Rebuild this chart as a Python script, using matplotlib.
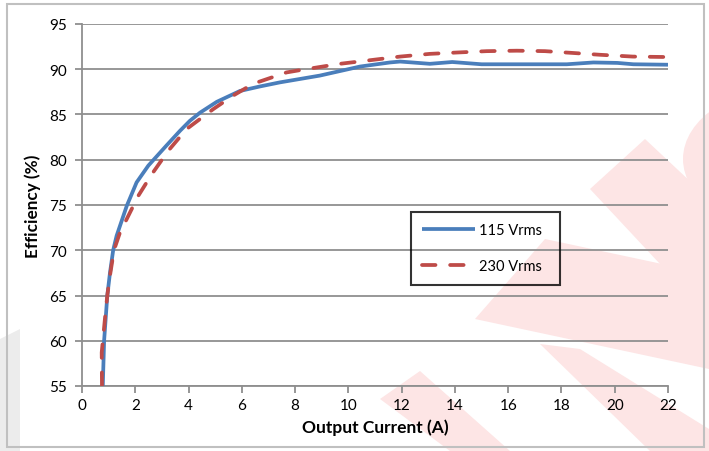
import matplotlib.pyplot as plt
from matplotlib.patches import Polygon, Circle, Rectangle

# 115 Vrms curve
x_115 = [0.78, 0.83, 0.95, 1.05, 1.17, 1.3, 1.68, 2.05, 2.49, 3.18, 3.68,
         4.05, 4.43, 5.06, 5.93, 6.68, 7.43, 8.93, 10.44, 11.56, 11.94, 12.4,
         13.06, 13.9, 15.0, 16.9, 18.2, 19.2, 20.1, 20.7, 22.0]
y_115 = [55.0, 60.0, 65.0, 67.5, 70.0, 71.6, 74.9, 77.5, 79.35, 81.6, 83.2,
         84.3, 85.2, 86.4, 87.6, 88.1, 88.55, 89.3, 90.3, 90.75, 90.85, 90.75,
         90.6, 90.8, 90.55, 90.55, 90.55, 90.75, 90.7, 90.55, 90.5]

# 230 Vrms curve
x_230 = [0.75, 0.74, 0.86, 0.95, 1.05, 1.2, 1.43, 1.68, 2.11, 2.62, 3.24,
         3.93, 4.93, 5.68, 6.43, 7.68, 8.18, 9.68, 10.68, 11.94, 13.06,
         14.08, 15.2, 16.33, 17.38, 18.43, 19.44, 20.68, 22.0]
y_230 = [55.0, 58.7, 62.4, 65.0, 67.2, 70.0, 72.0, 73.45, 76.0, 78.4, 81.0,
         83.4, 85.6, 87.1, 88.4, 89.65, 89.9, 90.6, 90.95, 91.4, 91.7,
         91.85, 92.0, 92.05, 92.0, 91.8, 91.6, 91.4, 91.35]

x_ticks = list(range(0, 23, 2))
y_ticks = list(range(55, 96, 5))

W, H = 709, 452
fig = plt.figure(figsize=(W / 100, H / 100), dpi=100)
plt.rcParams["font.family"] = ["Lato", "DejaVu Sans"]


def px(pts):
    return [(a / W, 1 - b / H) for a, b in pts]


# faint background watermark
pink = "#fde5e5"
for pts in [[(590, 190), (645, 140), (709, 200), (709, 300), (660, 265)],
            [(475, 320), (545, 240), (709, 275), (709, 370)],
            [(540, 345), (580, 350), (709, 430), (709, 452), (650, 452)],
            [(380, 400), (420, 372), (510, 452), (450, 452)]]:
    fig.patches.append(Polygon(px(pts), closed=True, transform=fig.transFigure,
                               facecolor=pink, edgecolor="none", zorder=-2))
fig.patches.append(Circle((800 / W, 1 - 160 / H), 117 / W, transform=fig.transFigure,
                          facecolor=pink, edgecolor="none", zorder=-2))
fig.patches.append(Polygon(px([(0, 340), (20, 330), (20, 452), (0, 452)]), closed=True,
                           transform=fig.transFigure, facecolor="#ececec",
                           edgecolor="none", zorder=-2))
fig.patches.append(Rectangle((7 / W, 1 - 448 / H), 697 / W, 443 / H,
                             transform=fig.transFigure, facecolor="none",
                             edgecolor="#c0c0c0", lw=1.5, zorder=-1))

ax = fig.add_axes([82 / W, 1 - 387 / H, 586 / W, 362 / H])
ax.set_facecolor("none")

ax.plot(x_115, y_115, color="#4a7ebb", lw=2.7, solid_capstyle="butt",
        solid_joinstyle="round", label="115 Vrms", zorder=3)
l2, = ax.plot(x_230, y_230, color="#be4b48", lw=2.7, dash_capstyle="round",
              label="230 Vrms", zorder=4)
l2.set_dashes((3.6, 3.9))

ax.set_xlim(0, 22)
ax.set_ylim(55, 95)
ax.set_xticks(x_ticks)
ax.set_yticks(y_ticks)
ax.grid(axis="y", color="#8f8f8f", lw=1.3)
ax.set_axisbelow(True)
for s in ["top", "right"]:
    ax.spines[s].set_visible(False)
for s in ["left", "bottom"]:
    ax.spines[s].set_color("#8f8f8f")
    ax.spines[s].set_linewidth(1.3)
ax.tick_params(axis="both", colors="#8f8f8f", width=1.3, length=5,
               labelcolor="black", labelsize=11)
ax.tick_params(axis="y", pad=6)

ax.set_xlabel("Output Current (A)", fontsize=12.5, fontweight="bold", labelpad=5)
ax.set_ylabel("Efficiency (%)", fontsize=12.3, fontweight="bold", labelpad=6)

leg = ax.legend(loc="lower left", bbox_to_anchor=(0.561, 0.279, 0.255, 0.204),
                mode="expand", borderaxespad=0, fontsize=10.5, fancybox=False,
                facecolor="none", edgecolor="black", handlelength=3.6,
                labelspacing=1.5, borderpad=0.8, handletextpad=0.3)
leg.get_frame().set_linewidth(1.5)

fig.savefig("out.png", dpi=100)
